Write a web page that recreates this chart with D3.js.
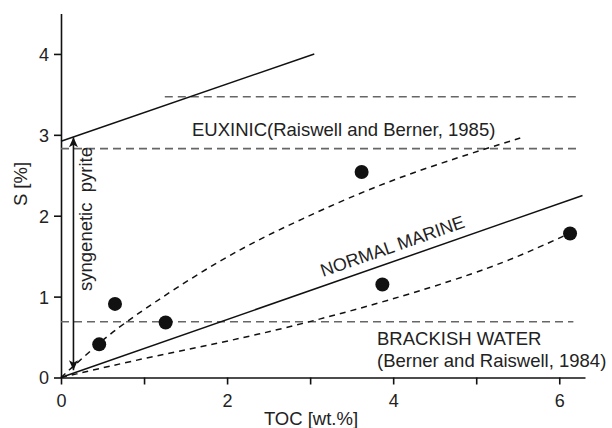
<!DOCTYPE html>
<html>
<head>
<meta charset="utf-8">
<script src="https://cdn.jsdelivr.net/npm/d3@7"></script>
<style>
  html, body { margin: 0; padding: 0; background: #fff; }
  svg text { font-family: "Liberation Sans", Arial, Helvetica, sans-serif; fill: #222; }
</style>
</head>
<body>
<svg id="chart" width="612" height="428"></svg>
<script>
// ---- data ----
const xTicks = [0, 1, 2, 3, 4, 5, 6];
const xTickLabels = [0, 2, 4, 6];
const yTicks = [0, 1, 2, 3, 4];
const samplesTOC = [0.46, 0.65, 1.26, 3.62, 3.87, 6.13];
const samplesS   = [0.41, 0.91, 0.68, 2.54, 1.15, 1.78];
const euxinicLine = [[0, 2.92], [3.05, 4.0]];
const normalMarineLine = [[0, 0], [6.28, 2.25]];
const upperCurve = [[0, 0], [0.45, 0.42], [0.8, 0.71], [1.95, 1.49], [2.87, 1.95], [4.03, 2.48], [5.53, 2.96]];
const lowerCurve = [[0, 0], [1.13, 0.27], [2.33, 0.51], [3.83, 0.91], [5.03, 1.30], [5.63, 1.55], [6.12, 1.78]];
const hLevels = [3.47, 2.83, 0.69];
const hStarts = [1.25, 0, 0];
const hEnds   = [6.23, 6.23, 6.17];
const pyriteArrow = [0.15, 0.09, 2.97];

// ---- scales ----
const svg = d3.select("#chart");
const x = d3.scaleLinear().domain([0, 6.31]).range([61, 585]);
const y = d3.scaleLinear().domain([0, 4.5]).range([377.5, 13.5]);

// ---- axes ----
const xAxis = d3.axisBottom(x).tickValues(xTicks).tickSize(7).tickSizeOuter(0)
  .tickFormat(d => xTickLabels.includes(d) ? d3.format("d")(d) : "");
const gx = svg.append("g").attr("transform", `translate(0,${y(0)})`).call(xAxis);
const yAxis = d3.axisLeft(y).tickValues(yTicks).tickSize(7).tickSizeOuter(0).tickFormat(d3.format("d"));
const gy = svg.append("g").attr("transform", `translate(${x(0)},0)`).call(yAxis);
[gx, gy].forEach(g => {
  g.select(".domain").attr("stroke", "#111").attr("stroke-width", 1.6);
  g.selectAll(".tick line").attr("stroke", "#111").attr("stroke-width", 1.6);
  g.selectAll(".tick text").attr("font-size", 18).attr("fill", "#222")
    .style("font-family", '"Liberation Sans", Arial, sans-serif');
});
gx.selectAll(".tick text").attr("dy", 0).attr("y", 29);
gy.selectAll(".tick text").attr("x", -12).attr("dy", "0.36em");

// ---- horizontal dashed reference lines ----
svg.append("g").selectAll("line").data(hLevels).join("line")
  .attr("x1", (d, i) => x(hStarts[i])).attr("x2", (d, i) => x(hEnds[i]))
  .attr("y1", d => y(d)).attr("y2", d => y(d))
  .attr("stroke", "#666").attr("stroke-width", 1.6).attr("stroke-dasharray", "8,5");

// ---- lines ----
const line = d3.line().x(d => x(d[0])).y(d => y(d[1]));
const curve = d3.line().x(d => x(d[0])).y(d => y(d[1])).curve(d3.curveBasis);
svg.append("path").attr("d", line(euxinicLine)).attr("fill", "none").attr("stroke", "#111").attr("stroke-width", 1.5);
svg.append("path").attr("d", line(normalMarineLine)).attr("fill", "none").attr("stroke", "#111").attr("stroke-width", 1.5);
svg.append("path").attr("d", curve(upperCurve)).attr("fill", "none").attr("stroke", "#111").attr("stroke-width", 1.5).attr("stroke-dasharray", "6,5");
svg.append("path").attr("d", curve(lowerCurve)).attr("fill", "none").attr("stroke", "#111").attr("stroke-width", 1.5).attr("stroke-dasharray", "6,5");

// ---- double arrow ----
const defs = svg.append("defs");
defs.append("marker").attr("id", "ah").attr("viewBox", "0 0 10 10").attr("refX", 10).attr("refY", 5)
  .attr("markerWidth", 10).attr("markerHeight", 10).attr("markerUnits", "userSpaceOnUse")
  .attr("orient", "auto-start-reverse")
  .append("path").attr("d", "M0,0.5 L10,5 L0,9.5 L2.5,5 Z").attr("fill", "#111");
svg.append("line")
  .attr("x1", x(pyriteArrow[0])).attr("x2", x(pyriteArrow[0]))
  .attr("y1", y(pyriteArrow[1])).attr("y2", y(pyriteArrow[2]))
  .attr("stroke", "#111").attr("stroke-width", 1.6)
  .attr("marker-start", "url(#ah)").attr("marker-end", "url(#ah)");

// ---- sample points ----
svg.append("g").selectAll("circle").data(samplesTOC).join("circle")
  .attr("cx", d => x(d)).attr("cy", (d, i) => y(samplesS[i])).attr("r", 7).attr("fill", "#111");

// ---- labels ----
svg.append("text").attr("x", 192).attr("y", 136).attr("font-size", 18.5).text("EUXINIC(Raiswell and Berner, 1985)");
svg.append("text").attr("x", 377).attr("y", 345).attr("font-size", 18.5).text("BRACKISH WATER");
svg.append("text").attr("x", 377).attr("y", 367).attr("font-size", 18.5).text("(Berner and Raiswell, 1984)");
const ang = -Math.atan2(y(0) - y(2.25), x(6.28) - x(0)) * 180 / Math.PI;
svg.append("text").attr("transform", `translate(323,277) rotate(${ang})`).attr("font-size", 18).text("NORMAL MARINE");
svg.append("text").attr("transform", "translate(92,219) rotate(-90)").attr("text-anchor", "middle")
  .attr("font-size", 18.5).attr("xml:space", "preserve").text("syngenetic  pyrite");
svg.append("text").attr("transform", "translate(27,184) rotate(-90)").attr("text-anchor", "middle")
  .attr("font-size", 18.5).text("S [%]");
svg.append("text").attr("x", 311).attr("y", 425).attr("text-anchor", "middle").attr("font-size", 18.5).text("TOC [wt.%]");
</script>
</body>
</html>
